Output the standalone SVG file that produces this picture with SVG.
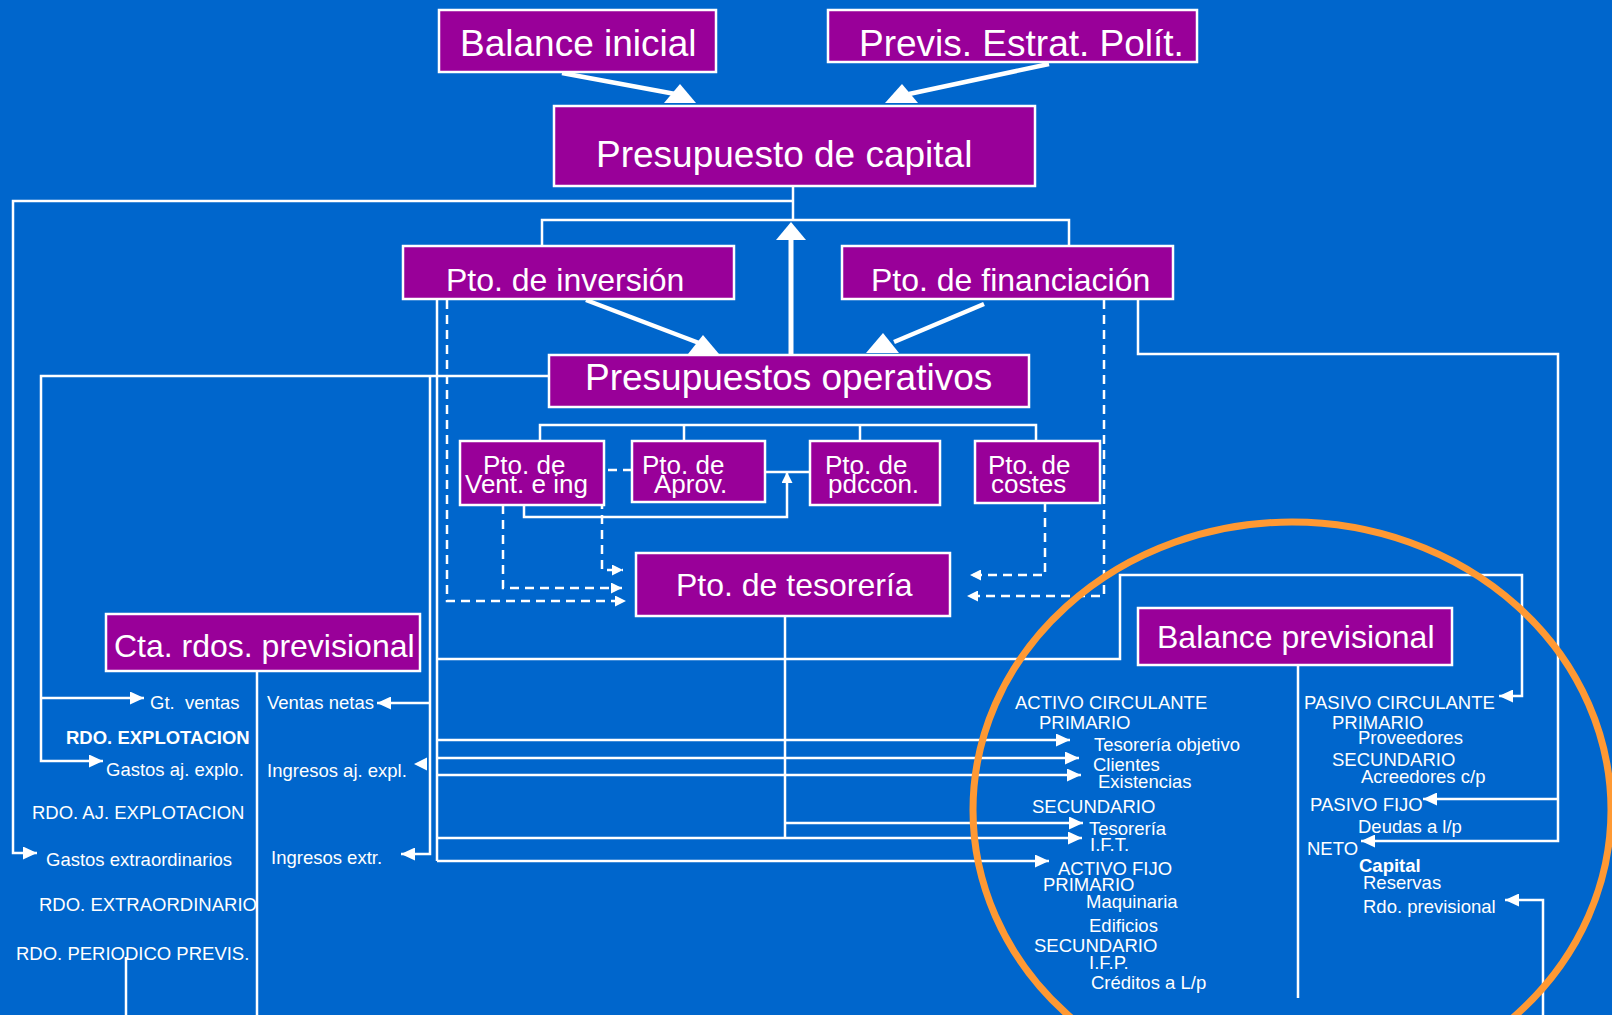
<svg xmlns="http://www.w3.org/2000/svg" width="1612" height="1015" viewBox="0 0 1612 1015">
<style>
.box{fill:#990099;stroke:#ffffff;stroke-width:2.5}
.t{font-family:"Liberation Sans",Arial,Helvetica,sans-serif;fill:#ffffff}
.big{font-size:37px}
.mid{font-size:32px}
.sm{font-size:26px}
.xs{font-size:18.5px}
.b{font-weight:bold}
.ln{fill:none;stroke:#ffffff;stroke-width:2.5}
.dash{stroke-dasharray:9 6}
.thick{fill:none;stroke:#ffffff;stroke-width:4.5}
.head{fill:#ffffff;stroke:none}
</style>
<defs>
<marker id="ah" markerUnits="userSpaceOnUse" markerWidth="14" markerHeight="13" refX="14" refY="6.5" orient="auto">
<path d="M0,0 L14,6.5 L0,13 Z" fill="#ffffff" stroke="none"/>
</marker>
<marker id="ahs" markerUnits="userSpaceOnUse" markerWidth="11" markerHeight="11" refX="11" refY="5.5" orient="auto">
<path d="M0,0 L11,5.5 L0,11 Z" fill="#ffffff" stroke="none"/>
</marker>
</defs>
<rect x="0" y="0" width="1612" height="1015" fill="#0066CC"/>

<g id="connectors">
<!-- thick arrows -->
<line class="thick" x1="562" y1="73" x2="686" y2="96"/>
<polygon class="head" points="664,103 680,84 696,103"/>
<line class="thick" x1="1049" y1="64" x2="909" y2="94"/>
<polygon class="head" points="885,103 902,84 918,103"/>
<line class="thick" x1="586" y1="300" x2="699" y2="343"/>
<polygon class="head" points="688,354 703,335 719,354"/>
<line class="thick" x1="984" y1="304" x2="894" y2="342"/>
<polygon class="head" points="866,353 883,333 899,353"/>
<line class="thick" x1="791" y1="355" x2="791" y2="238" style="stroke-width:5"/>
<polygon class="head" points="776,240 791,222 806,240"/>

<!-- top connectors -->
<path class="ln" d="M793,186 V220"/>
<path class="ln" d="M793,201 H13 V853 H37" marker-end="url(#ah)"/>
<path class="ln" d="M542,246 V220 H1069 V246"/>

<!-- left side -->
<path class="ln" d="M549,376 H41 V761 H103" marker-end="url(#ah)"/>
<path class="ln" d="M41,698 H144" marker-end="url(#ah)"/>
<path class="ln" d="M430,376 V854 H401" marker-end="url(#ah)"/>
<path class="ln" d="M430,703 H377" marker-end="url(#ah)"/>
<polygon class="head" points="414,764 427,757.5 427,770.5"/>
<path class="ln" d="M437,299 V861"/>
<path class="ln" d="M437,659 H1120 V575 H1522 V696 H1499" marker-end="url(#ah)"/>
<path class="ln" d="M437,740 H1070" marker-end="url(#ah)"/>
<path class="ln" d="M437,758 H1079" marker-end="url(#ah)"/>
<path class="ln" d="M437,775 H1081" marker-end="url(#ah)"/>
<path class="ln" d="M437,838 H1082" marker-end="url(#ah)"/>
<path class="ln" d="M437,861 H1049" marker-end="url(#ah)"/>
<path class="ln" d="M785,616 V838"/>
<path class="ln" d="M785,823 H1083" marker-end="url(#ah)"/>

<!-- dashed to tesoreria -->
<path class="ln dash" d="M447,300 V601 H626" marker-end="url(#ahs)"/>
<path class="ln dash" d="M503,505 V588 H622" marker-end="url(#ahs)"/>
<path class="ln dash" d="M632,470 H602 V570 H623" marker-end="url(#ahs)"/>
<path class="ln dash" d="M1045,503 V575 H970" marker-end="url(#ahs)"/>
<path class="ln dash" d="M1104,300 V596 H967" marker-end="url(#ahs)"/>

<!-- operativos bus -->
<path class="ln" d="M540,440 V425 H1036 V440"/>
<path class="ln" d="M684,425 V440"/>
<path class="ln" d="M860,425 V440"/>
<path class="ln" d="M765,472 H810"/>
<path class="ln" d="M524,505 V517 H787 V472" marker-end="url(#ahs)"/>

<!-- right side -->
<path class="ln" d="M1138,300 V354 H1558 V841 H1361" marker-end="url(#ah)"/>
<path class="ln" d="M1558,799 H1423" marker-end="url(#ah)"/>
<path class="ln" d="M1543,1015 V900 H1505" marker-end="url(#ah)"/>
<path class="ln" d="M1298,665 V998"/>
<path class="ln" d="M257,671 V1015"/>
<path class="ln" d="M126,957 V1015"/>
</g>

<g id="balance-inicial">
<rect class="box" x="439" y="10" width="277" height="62"/>
<text class="t big" x="460" y="56">Balance inicial</text>
</g>
<g id="previs">
<rect class="box" x="828" y="10" width="369" height="52"/>
<text class="t big" x="859" y="56">Previs. Estrat. Polít.</text>
</g>
<g id="presupuesto-capital">
<rect class="box" x="554" y="106" width="481" height="80"/>
<text class="t big" x="596" y="167">Presupuesto de capital</text>
</g>
<g id="pto-inversion">
<rect class="box" x="403" y="246" width="331" height="53"/>
<text class="t mid" x="446" y="291">Pto. de inversión</text>
</g>
<g id="pto-financiacion">
<rect class="box" x="842" y="246" width="331" height="53"/>
<text class="t mid" x="871" y="291">Pto. de financiación</text>
</g>
<g id="presupuestos-operativos">
<rect class="box" x="549" y="355" width="480" height="52"/>
<text class="t big" x="585" y="390">Presupuestos operativos</text>
</g>
<g id="pto-vent">
<rect class="box" x="460" y="441" width="144" height="64"/>
<text class="t sm" x="483" y="474">Pto. de</text>
<text class="t sm" x="465" y="493">Vent. e ing</text>
</g>
<g id="pto-aprov">
<rect class="box" x="632" y="441" width="133" height="61"/>
<text class="t sm" x="642" y="474">Pto. de</text>
<text class="t sm" x="654" y="493">Aprov.</text>
</g>
<g id="pto-pdccon">
<rect class="box" x="810" y="441" width="130" height="64"/>
<text class="t sm" x="825" y="474">Pto. de</text>
<text class="t sm" x="828" y="493">pdccon.</text>
</g>
<g id="pto-costes">
<rect class="box" x="975" y="441" width="125" height="62"/>
<text class="t sm" x="988" y="474">Pto. de</text>
<text class="t sm" x="991" y="493">costes</text>
</g>
<g id="pto-tesoreria">
<rect class="box" x="636" y="553" width="314" height="63"/>
<text class="t mid" x="676" y="596">Pto. de tesorería</text>
</g>
<g id="cta-rdos">
<rect class="box" x="106" y="614" width="314" height="57"/>
<text class="t mid" x="114" y="657">Cta. rdos. previsional</text>
</g>
<g id="balance-previsional">
<rect class="box" x="1138" y="608" width="314" height="57"/>
<text class="t mid" x="1157" y="648">Balance previsional</text>
</g>

<g id="cta-items">
<text class="t xs" x="150" y="709" xml:space="preserve">Gt.  ventas</text>
<text class="t xs b" x="66" y="744">RDO. EXPLOTACION</text>
<text class="t xs" x="106" y="776">Gastos aj. explo.</text>
<text class="t xs" x="32" y="819">RDO. AJ. EXPLOTACION</text>
<text class="t xs" x="46" y="866">Gastos extraordinarios</text>
<text class="t xs" x="39" y="911">RDO. EXTRAORDINARIO</text>
<text class="t xs" x="16" y="960">RDO. PERIODICO PREVIS.</text>
<text class="t xs" x="267" y="709">Ventas netas</text>
<text class="t xs" x="267" y="777">Ingresos aj. expl.</text>
<text class="t xs" x="271" y="864">Ingresos extr.</text>
</g>

<g id="balance-items">
<text class="t xs" x="1015" y="709">ACTIVO CIRCULANTE</text>
<text class="t xs" x="1039" y="729">PRIMARIO</text>
<text class="t xs" x="1094" y="751">Tesorería objetivo</text>
<text class="t xs" x="1093" y="771">Clientes</text>
<text class="t xs" x="1098" y="788">Existencias</text>
<text class="t xs" x="1032" y="813">SECUNDARIO</text>
<text class="t xs" x="1089" y="835">Tesorería</text>
<text class="t xs" x="1090" y="851">I.F.T.</text>
<text class="t xs" x="1058" y="875">ACTIVO FIJO</text>
<text class="t xs" x="1043" y="891">PRIMARIO</text>
<text class="t xs" x="1086" y="908">Maquinaria</text>
<text class="t xs" x="1089" y="932">Edificios</text>
<text class="t xs" x="1034" y="952">SECUNDARIO</text>
<text class="t xs" x="1089" y="969">I.F.P.</text>
<text class="t xs" x="1091" y="989">Créditos a L/p</text>
<text class="t xs" x="1304" y="709">PASIVO CIRCULANTE</text>
<text class="t xs" x="1332" y="729">PRIMARIO</text>
<text class="t xs" x="1358" y="744">Proveedores</text>
<text class="t xs" x="1332" y="766">SECUNDARIO</text>
<text class="t xs" x="1361" y="783">Acreedores c/p</text>
<text class="t xs" x="1310" y="811">PASIVO FIJO</text>
<text class="t xs" x="1358" y="833">Deudas a l/p</text>
<text class="t xs" x="1307" y="855">NETO</text>
<text class="t xs b" x="1359" y="872">Capital</text>
<text class="t xs" x="1363" y="889">Reservas</text>
<text class="t xs" x="1363" y="913">Rdo. previsional</text>
</g>

<ellipse cx="1292" cy="810" rx="319" ry="288" fill="none" stroke="#FF9933" stroke-width="7"/>
</svg>
